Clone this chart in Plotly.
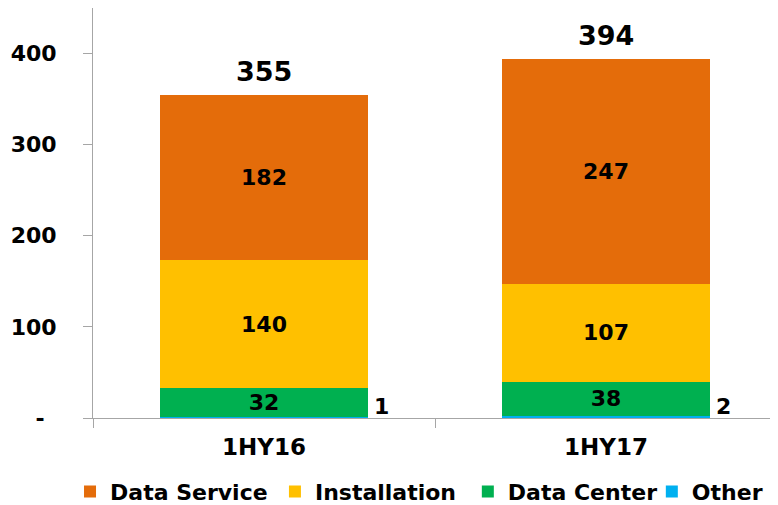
import plotly.graph_objects as go

categories = ["1HY16", "1HY17"]
data_service = [182, 247]
installation = [140, 107]
data_center = [32, 38]
other = [1, 2]
ytick_vals = [0, 100, 200, 300, 400]
ytick_text = ["-\u00a0\u2009", "100", "200", "300", "400"]

totals = [a + b + c + d for a, b, c, d in zip(data_service, installation, data_center, other)]

FONT = "DejaVu Sans"
LEG_FONT = dict(family=FONT, size=22, color="black", weight="bold")
fig = go.Figure()

fig.add_trace(go.Bar(name="Other", x=categories, y=other, marker_color="#00B0F0",
                     marker_line_width=0, hoverinfo="skip", legend="legend4"))
for name, vals, col, leg in [("Data Center", data_center, "#00B050", "legend3"),
                             ("Installation", installation, "#FFC000", "legend2"),
                             ("Data Service", data_service, "#E46C0A", "legend")]:
    fig.add_trace(go.Bar(name=name, x=categories, y=vals, marker_color=col,
                         marker_line_width=0, legend=leg,
                         text=[str(v) for v in vals], textposition="inside",
                         insidetextanchor="middle", textangle=0, constraintext="none",
                         textfont=dict(family=FONT, size=22, color="black", weight="bold")))

for cat, t in zip(categories, totals):
    fig.add_annotation(x=cat, y=t, text=str(t), showarrow=False, yanchor="bottom",
                       yshift=6, font=dict(family=FONT, size=27, color="black", weight="bold"))
for cat, o in zip(categories, other):
    fig.add_annotation(x=cat, y=0, text=str(o), showarrow=False, yanchor="bottom",
                       xanchor="left", xshift=108, yshift=-3,
                       font=dict(family=FONT, size=22, color="black", weight="bold"))

def leg(x):
    return dict(orientation="h", x=x, xanchor="left", y=-0.18, yanchor="middle",
                font=LEG_FONT, bgcolor="rgba(0,0,0,0)")

# page body adds an 8px margin, so the figure is sized to fill the remaining window
fig.update_layout(
    barmode="stack", bargap=0.39,
    width=770, height=497,
    margin=dict(l=85, r=1, t=0, b=87, autoexpand=False),
    plot_bgcolor="white", paper_bgcolor="white",
    font=dict(family=FONT, color="black"),
    showlegend=True,
    legend=leg(-0.0336),
    legend2=leg(0.266),
    legend3=leg(0.548),
    legend4=leg(0.817),
    xaxis=dict(showline=True, linecolor="#A6A6A6", linewidth=1, ticks="outside",
               tickson="boundaries", ticklen=9, tickcolor="#A6A6A6",
               ticklabelstandoff=8, automargin=False,
               tickfont=dict(family=FONT, size=23, color="black", weight="bold")),
    yaxis=dict(range=[0, 450], showline=True, linecolor="#A6A6A6", linewidth=1,
               showgrid=False, zeroline=False, ticks="outside", ticklen=9,
               tickcolor="#A6A6A6", tickvals=ytick_vals, ticktext=ytick_text,
               ticklabelstandoff=22, automargin=False,
               tickfont=dict(family=FONT, size=22, color="black", weight="bold")),
)

fig.write_html("out.html")
